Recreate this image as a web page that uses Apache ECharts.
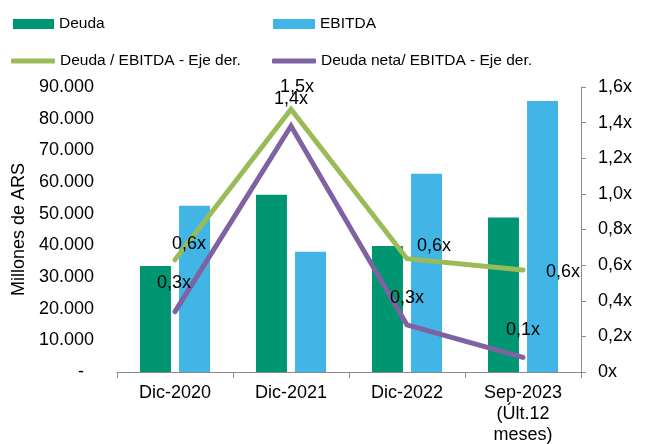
<!DOCTYPE html>
<html><head><meta charset="utf-8">
<script src="https://cdn.jsdelivr.net/npm/echarts@6/dist/echarts.min.js"></script>
<style>html,body{margin:0;padding:0;background:#fff}#c{width:655px;height:444px}</style>
</head><body><div id="c"></div>
<script>
var categories = ['Dic-2020', 'Dic-2021', 'Dic-2022', 'Sep-2023\n(Últ.12\nmeses)'];
var deuda = [33500, 56000, 39800, 48800];
var ebitda = [52500, 38000, 62600, 85600];
var deudaEbitda = [0.63, 1.475, 0.636, 0.573];
var deudaNetaEbitda = [0.339, 1.381, 0.264, 0.082];
var leftTicks = [0, 10000, 20000, 30000, 40000, 50000, 60000, 70000, 80000, 90000];
var rightTicks = [0, 0.2, 0.4, 0.6, 0.8, 1.0, 1.2, 1.4, 1.6];

var FONT = 'Liberation Sans, Arial, sans-serif';
var greenOffsets = [[14, -16], [6, -22], [27, -13], [40, 2]];
var purpleOffsets = [[-1, -29], [0, -27], [0, -27], [0, -27]];

function fmtX(v) { return v.toFixed(1).replace('.', ',') + 'x'; }
function lineData(vals, offs) {
  return vals.map(function (v, i) {
    return { value: v, label: { offset: offs[i] } };
  });
}
function fmtThousands(v) {
  if (v === 0) return '-  ';
  return String(v).replace(/\B(?=(\d{3})+(?!\d))/g, '.');
}

var chart = echarts.init(document.getElementById('c'), null, { renderer: 'canvas' });
var lbl = { show: true, position: 'inside', color: '#000', fontSize: 18, fontFamily: FONT,
  formatter: function (p) { return fmtX(p.value); } };
var legText = { fontSize: 15.5, fontFamily: FONT, color: '#000', lineHeight: 18 };

chart.setOption({
  animation: false,
  grid: { left: 117, right: 74, top: 87, bottom: 72, containLabel: false, outerBoundsMode: 'none' },
  legend: [
    { data: ['Deuda'], left: 13, top: 15, padding: 0, itemWidth: 41, itemHeight: 10, itemGap: 0, textStyle: legText, icon: 'rect' },
    { data: ['EBITDA'], left: 273, top: 15, padding: 0, itemWidth: 42, itemHeight: 10, itemGap: 0, textStyle: legText, icon: 'rect' },
    { data: ['Deuda / EBITDA - Eje der.'], left: 11, top: 52, padding: 0, itemWidth: 44, itemHeight: 5, itemGap: 0, textStyle: legText, icon: 'roundRect' },
    { data: ['Deuda neta/ EBITDA - Eje der.'], left: 272, top: 52, padding: 0, itemWidth: 44, itemHeight: 5, itemGap: 0, textStyle: legText, icon: 'roundRect' }
  ],
  xAxis: {
    type: 'category', data: categories,
    axisLine: { lineStyle: { color: '#8c8c8c', width: 1 } },
    axisTick: { show: true, length: 6, lineStyle: { color: '#8c8c8c' } },
    axisLabel: { color: '#000', fontSize: 18, fontFamily: FONT, margin: 11, lineHeight: 21 }
  },
  yAxis: [
    {
      type: 'value', min: leftTicks[0], max: leftTicks[leftTicks.length - 1], interval: 10000,
      name: 'Millones de ARS', nameLocation: 'middle', nameRotate: 90, nameGap: 89,
      nameTextStyle: { color: '#000', fontSize: 18, fontFamily: FONT },
      axisLine: { show: false }, axisTick: { show: false }, splitLine: { show: false },
      axisLabel: { color: '#000', fontSize: 18, fontFamily: FONT, margin: 23, formatter: fmtThousands }
    },
    {
      type: 'value', min: rightTicks[0], max: rightTicks[rightTicks.length - 1], interval: 0.2,
      position: 'right',
      axisLine: { show: true, lineStyle: { color: '#8c8c8c', width: 1 } },
      axisTick: { show: true, length: 5, lineStyle: { color: '#8c8c8c' } },
      splitLine: { show: false },
      axisLabel: { color: '#000', fontSize: 18, fontFamily: FONT, margin: 17,
        formatter: function (v) { return v === 0 ? '0x' : v.toFixed(1).replace('.', ',') + 'x'; } }
    }
  ],
  series: [
    { name: 'Deuda', type: 'bar', data: deuda, barWidth: 31, barGap: '26%', itemStyle: { color: '#009672' } },
    { name: 'EBITDA', type: 'bar', data: ebitda, barWidth: 31, itemStyle: { color: '#41B5E6' } },
    { name: 'Deuda / EBITDA - Eje der.', type: 'line', yAxisIndex: 1, data: lineData(deudaEbitda, greenOffsets),
      symbol: 'circle', symbolSize: 0, showSymbol: true, color: '#9BBB59',
      lineStyle: { width: 5, color: '#9BBB59', cap: 'round', join: 'miter' }, label: lbl, z: 5 },
    { name: 'Deuda neta/ EBITDA - Eje der.', type: 'line', yAxisIndex: 1, data: lineData(deudaNetaEbitda, purpleOffsets),
      symbol: 'circle', symbolSize: 0, showSymbol: true, color: '#7E62A1',
      lineStyle: { width: 5, color: '#7E62A1', cap: 'round', join: 'miter' }, label: lbl, z: 5 }
  ]
});
</script></body></html>
